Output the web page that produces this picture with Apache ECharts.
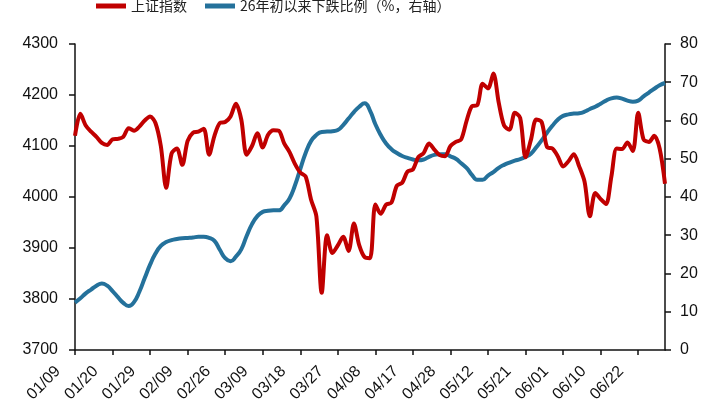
<!DOCTYPE html>
<html>
<head>
<meta charset="utf-8">
<title>上证指数与下跌比例</title>
<script src="https://cdn.jsdelivr.net/npm/echarts@6.0.0/dist/echarts.min.js"></script>
<style>
  html, body { margin: 0; padding: 0; background: #fff; }
  #e_chart_1 { width: 720px; height: 405px; }
</style>
</head>
<body>
<div id="e_chart_1"></div>
<script>
//------------data

var dates = [
  '01/09','01/12','01/13','01/14','01/15','01/16','01/19','01/20','01/21','01/22',
  '01/23','01/26','01/27','01/28','01/29','01/30','02/02','02/03','02/04','02/05',
  '02/06','02/09','02/10','02/11','02/12','02/13','02/24','02/25','02/26','02/27',
  '03/02','03/03','03/04','03/05','03/06','03/09','03/10','03/11','03/12','03/13',
  '03/16','03/17','03/18','03/19','03/20','03/23','03/24','03/25','03/26','03/27',
  '03/30','03/31','04/01','04/02','04/03','04/07','04/08','04/09','04/10','04/13',
  '04/14','04/15','04/16','04/17','04/20','04/21','04/22','04/23','04/24','04/27',
  '04/28','04/29','04/30','05/06','05/07','05/08','05/11','05/12','05/13','05/14',
  '05/15','05/18','05/19','05/20','05/21','05/22','05/25','05/26','05/27','05/28',
  '05/29','06/01','06/02','06/03','06/04','06/05','06/08','06/09','06/10','06/11',
  '06/12','06/15','06/16','06/17','06/18','06/22','06/23','06/24','06/25','06/26',
  '06/29'
];

// 上证指数 (left axis)
var shIndex = [
  4120, 4163, 4140, 4128, 4118, 4106, 4102, 4113, 4114, 4118,
  4135, 4130, 4138, 4150, 4158, 4145, 4100, 4018, 4085, 4095,
  4063, 4110, 4126, 4128, 4134, 4083, 4120, 4145, 4147, 4158,
  4183, 4152, 4083, 4100, 4125, 4097, 4122, 4131, 4130, 4105,
  4088, 4065, 4048, 4040, 3995, 3962, 3812, 3925, 3890, 3905,
  3922, 3894, 3948, 3905, 3882, 3880, 3985, 3967, 3985, 3989,
  4022, 4028, 4050, 4054, 4078, 4086, 4105, 4093, 4082, 4080,
  4100, 4108, 4113, 4149, 4178, 4180, 4222, 4213, 4242, 4185,
  4140, 4132, 4165, 4155, 4078, 4112, 4152, 4147, 4098, 4095,
  4080, 4060, 4070, 4084, 4060, 4030, 3962, 4008, 3996, 3986,
  4040, 4095, 4094, 4107, 4090, 4165, 4113, 4108, 4120, 4095,
  4026
];

// 26年初以来下跌比例 (%, right axis)
var fallRatio = [
  12.4, 13.5, 14.8, 15.8, 16.8, 17.4, 16.8, 15.4, 13.8, 12.3,
  11.5, 12.5, 15.2, 18.8, 22.3, 25.2, 27.2, 28.2, 28.7, 29.0,
  29.2, 29.3, 29.4, 29.6, 29.6, 29.3, 28.5, 26.2, 24.0, 23.2,
  24.4, 26.3, 29.8, 32.9, 35.0, 36.1, 36.4, 36.5, 36.5, 37.8,
  39.6, 43.0, 47.3, 51.5, 54.6, 56.2, 57.0, 57.1, 57.2, 57.5,
  58.8, 60.5, 62.2, 63.6, 64.5, 62.6, 59.0, 56.2, 54.0, 52.5,
  51.5, 50.7, 50.2, 49.8, 49.6, 49.8, 50.5, 51.0, 51.2, 51.2,
  50.6, 50.0, 48.8, 47.6, 45.8, 44.5, 44.5, 45.6, 46.5, 47.6,
  48.4, 49.0, 49.5, 49.9, 50.5, 51.3, 53.0, 54.8, 56.8, 58.6,
  60.2, 61.2, 61.6, 61.8, 61.9, 62.3, 63.0, 63.6, 64.4, 65.2,
  65.8, 66.0, 65.7, 65.2, 64.9, 65.2, 66.3, 67.3, 68.3, 69.2,
  69.8
];

var leftTicks = { min: 3700, max: 4300, step: 100 };
var rightTicks = { min: 0, max: 80, step: 10 };

//------------chart

var fontMain = "'Liberation Sans', Arial, 'Noto Sans CJK SC', sans-serif";
var axisColor = '#111';

var eChart_1 = echarts.init(document.getElementById('e_chart_1'));
var option = {
  animation: false,
  backgroundColor: '#fff',
  color: ['#C00000', '#24719B'],
  legend: {
    left: 91,
    top: -6,
    itemWidth: 30,
    itemHeight: 5,
    itemGap: 18,
    icon: 'rect',
    textStyle: {
      color: '#222',
      fontFamily: "'Noto Sans CJK SC', sans-serif",
      fontSize: 14
    },
    data: ['上证指数', '26年初以来下跌比例（%，右轴）']
  },
  grid: {
    left: 75,
    right: 55,
    top: 44,
    bottom: 53,
    containLabel: false
  },
  xAxis: {
    type: 'category',
    data: dates,
    boundaryGap: false,
    axisLine: { lineStyle: { color: axisColor, width: 1.5 } },
    axisTick: {
      interval: 6,
      length: 5,
      lineStyle: { color: axisColor, width: 1.5 }
    },
    axisLabel: {
      interval: 6,
      rotate: 45,
      margin: 2,
      padding: [0, 24, 0, 0],
      color: '#111',
      fontFamily: fontMain,
      fontSize: 16
    },
    splitLine: { show: false }
  },
  yAxis: [
    {
      type: 'value',
      min: leftTicks.min,
      max: leftTicks.max,
      interval: leftTicks.step,
      axisLine: { show: true, lineStyle: { color: axisColor, width: 1.5 } },
      axisTick: { show: true, length: 6, lineStyle: { color: axisColor, width: 1.5 } },
      axisLabel: {
        margin: 17,
        color: '#111',
        fontFamily: fontMain,
        fontSize: 16,
        formatter: function (v) { return String(v); }
      },
      splitLine: { show: false }
    },
    {
      type: 'value',
      min: rightTicks.min,
      max: rightTicks.max,
      interval: rightTicks.step,
      axisLine: { show: true, lineStyle: { color: axisColor, width: 1.5 } },
      axisTick: { show: true, length: 6, lineStyle: { color: axisColor, width: 1.5 } },
      axisLabel: {
        margin: 15,
        color: '#111',
        fontFamily: fontMain,
        fontSize: 16
      },
      splitLine: { show: false }
    }
  ],
  series: [
    {
      name: '上证指数',
      type: 'line',
      yAxisIndex: 0,
      data: shIndex,
      showSymbol: false,
      smooth: 0.3,
      lineStyle: { width: 4, color: '#C00000' },
      z: 3
    },
    {
      name: '26年初以来下跌比例（%，右轴）',
      type: 'line',
      yAxisIndex: 1,
      data: fallRatio,
      showSymbol: false,
      smooth: true,
      lineStyle: { width: 4, color: '#24719B' },
      z: 2
    }
  ]
};
eChart_1.setOption(option);
</script>
</body>
</html>
